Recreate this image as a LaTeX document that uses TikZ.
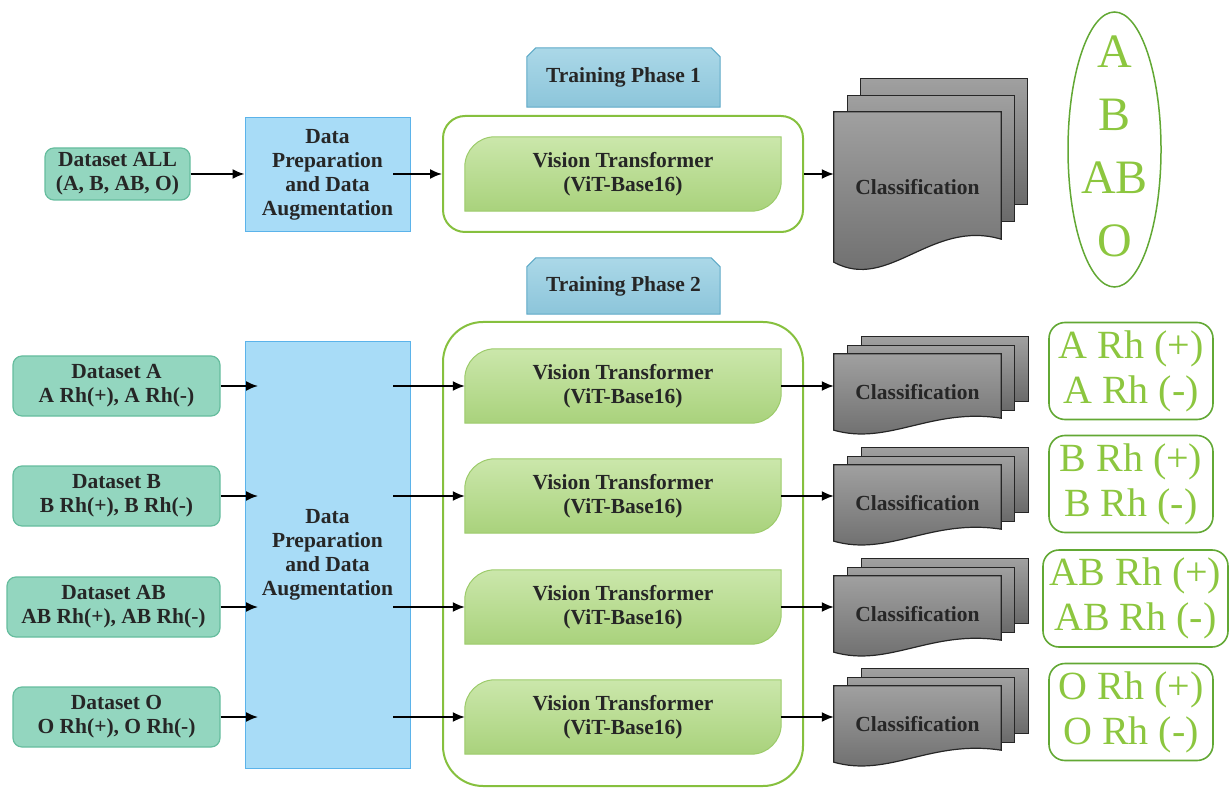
\documentclass[tikz,border=0pt]{standalone}
\usepackage{fontspec}
\setmainfont{Liberation Serif}
\usepackage{tikz}
\usetikzlibrary{arrows.meta, shapes.geometric, backgrounds}
\definecolor{dsfill}{HTML}{93D6BF}
\definecolor{dsline}{HTML}{66BD9E}
\definecolor{prepfill}{HTML}{A8DCF7}
\definecolor{prepline}{HTML}{5BB3EA}
\definecolor{tabtop}{HTML}{ABD8E8}
\definecolor{tabbot}{HTML}{8CC5DA}
\definecolor{tabline}{HTML}{5EA9C7}
\definecolor{vittop}{HTML}{CBE7AB}
\definecolor{vitbot}{HTML}{A9D27C}
\definecolor{vitline}{HTML}{9CCB6A}
\definecolor{frameline}{HTML}{86C03E}
\definecolor{labgreen}{HTML}{8CC63F}
\definecolor{labline}{HTML}{62A834}
\definecolor{clstop}{HTML}{A0A0A0}
\definecolor{clsbot}{HTML}{6A6A6A}
\tikzset{
  txt/.style={font=\bfseries\fontsize{21.5}{24}\selectfont, align=center, text=black!85},
  dataset/.style={txt, rectangle, rounded corners=9pt, draw=dsline, fill=dsfill, line width=1.2pt, inner sep=0pt},
  prep/.style={txt, rectangle, draw=prepline, fill=prepfill, line width=1pt, inner sep=0pt},
  phasetab/.style={txt, rectangle, minimum width=193pt, inner sep=0pt},
  tabshape/.style={draw=tabline, line width=1pt, top color=tabtop, bottom color=tabbot},
  frame/.style={rectangle, draw=frameline, line width=2pt, rounded corners=22pt, inner sep=0pt},
  vit/.style={txt, rectangle, minimum width=316pt, minimum height=74pt, inner sep=0pt},
  vitshape/.style={draw=vitline, line width=1pt, top color=vittop, bottom color=vitbot},
  cls/.style={txt, rectangle, minimum width=167pt, inner sep=0pt},
  clsshape/.style={draw=black!85, line width=1.2pt, top color=clstop, bottom color=clsbot},
  greentxt/.style={text=labgreen, align=center, inner sep=0pt},
  rhbox/.style={greentxt, rectangle, rounded corners=16pt, draw=labline, line width=1.6pt, font=\fontsize{40}{45}\selectfont},
  arr/.style={-{Latex[length=12pt,width=10pt]}, line width=1.8pt}
}
\begin{document}
\begin{tikzpicture}[x=1pt, y=1pt]
\useasboundingbox (0,0) rectangle (1230,788);

% phase 1
\node at (117.5,614) [dataset, minimum width=145pt, minimum height=52pt] (dsall) {Dataset ALL\\(A, B, AB, O)};
\node at (327.5,613) [prep, minimum width=165pt, minimum height=114pt] (prep1) {Data\\Preparation\\and Data\\Augmentation};
\node at (623,614) [frame, minimum width=360pt, minimum height=116pt] (frame1) {};
\node at (623,614) [vit] (vit1) {Vision Transformer\\(ViT-Base16)};
\node at (623.5,710.5) [phasetab, minimum height=59pt] (tab1) {Training Phase 1};
\node at (917.5,601) [cls, minimum height=150pt] (cls1) {Classification};
\node at (1114.5,638.5) [ellipse, draw=labline, line width=1.5pt, minimum width=93pt, minimum height=275pt, inner sep=0pt] (abo) {};
\node at (1114.5,642) [greentxt, font=\fontsize{48}{63}\selectfont] (abotxt) {A\\B\\AB\\O};
\coordinate (out1) at (393,614);
\draw[arr] (dsall.east) -- (dsall.east -| prep1.west);
\draw[arr] (out1) -- (frame1);
\draw[arr] (frame1.east) -- (frame1.east -| cls1.west);

% phase 2
\node at (623,234) [frame, rounded corners=40pt, minimum width=360pt, minimum height=464pt] (frame2) {};
\node at (327.5,233) [prep, minimum width=165pt, minimum height=426pt] (prep2) {Data\\Preparation\\and Data\\Augmentation};
\node at (623.5,502) [phasetab, minimum height=56pt] (tab2) {Training Phase 2};

\foreach \g/\y/\dx/\dw/\cy/\lx/\lw/\ly in {A/402/116.5/207/396/1131/164/417, B/292/116.5/207/285/1131/164/304, AB/181/113.5/213/174/1135.5/185/189.5, O/71/116.5/207/64/1131/164/76} {
  \node at (\dx,\y) [dataset, minimum width=\dw pt, minimum height=60pt] (ds\g) {Dataset \g\\\g{} Rh(+), \g{} Rh(-)};
  \node at (623,\y) [vit] (vit\g) {Vision Transformer\\(ViT-Base16)};
  \node at (917.5,\cy) [cls, minimum height=76pt] (cls\g) {Classification};
  \node at (\lx,\ly) [rhbox, minimum width=\lw pt, minimum height=97pt] (rh\g) {\g{} Rh (+)\\\g{} Rh (-)};
  \coordinate (in\g) at (258,\y);
  \coordinate (out\g) at (393,\y);
  \draw[arr] (ds\g) -- (in\g);
  \draw[arr] (out\g) -- (vit\g);
  \draw[arr] (vit\g) -- (vit\g.east -| cls\g.west);
}

\begin{scope}[on background layer]
\foreach \n in {tab1, tab2}
  \draw[tabshape] (\n.south west) -- ([yshift=-9pt]\n.north west) -- ([xshift=9pt]\n.north west) -- ([xshift=-9pt]\n.north east) -- ([yshift=-9pt]\n.north east) -- (\n.south east) -- cycle;
\foreach \n in {vit1, vitA, vitB, vitAB, vitO}
  \draw[vitshape] (\n.south west) -- ([yshift=-30pt]\n.north west) arc[start angle=180, end angle=90, radius=30pt] -- (\n.north east) -- ([yshift=30pt]\n.south east) arc[start angle=0, end angle=-90, radius=30pt] -- cycle;
\foreach \n/\dx/\dy/\h/\a in {cls1/13.5/16.5/126/23, clsA/14/8.5/65/12, clsB/14/8.5/65/12, clsAB/14/8.5/65/12, clsO/14/8.5/65/12} {
  \draw[clsshape] ([xshift=2*\dx pt, yshift=2*\dy pt]\n.north west) rectangle +(167pt,-\h pt);
  \draw[clsshape] ([xshift=\dx pt, yshift=\dy pt]\n.north west) rectangle +(167pt,-\h pt);
  \draw[clsshape] (\n.north west) -- (\n.north east) -- ([yshift=\a pt]\n.south east) .. controls ([xshift=-70pt, yshift=1.9*\a pt]\n.south east) and ([xshift=55pt, yshift=-1.3*\a pt]\n.south west) .. (\n.south west) -- cycle;
}
\end{scope}
\end{tikzpicture}
\end{document}
